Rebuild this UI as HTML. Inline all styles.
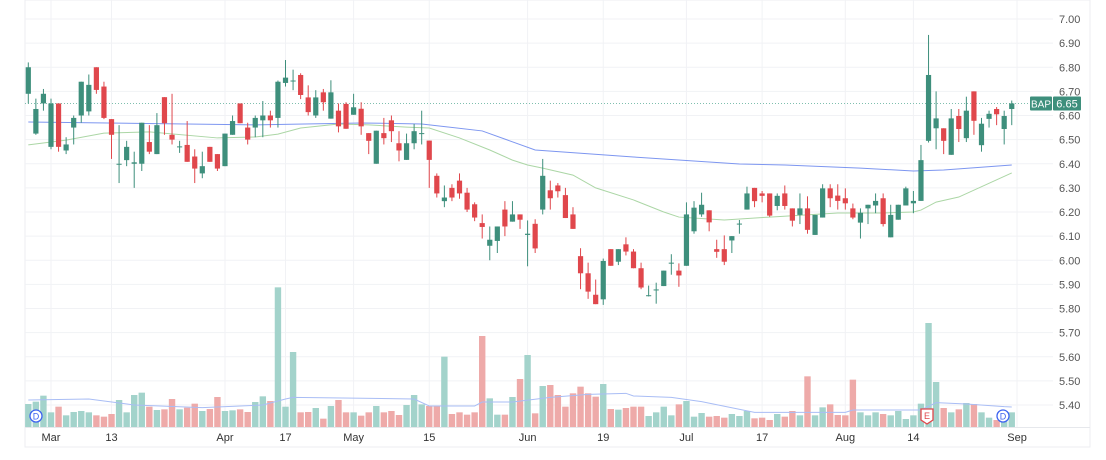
<!DOCTYPE html>
<html><head><meta charset="utf-8"><style>
html,body{margin:0;padding:0;background:#fff;}
svg{display:block;font-family:"Liberation Sans",sans-serif;}
</style></head><body>
<svg id="chart" width="1106" height="460" viewBox="0 0 1106 460">
<g id="grid"></g>
<g id="vol"></g>
<g id="ma"></g>
<g id="candles"></g>
<g id="axes"></g>
</svg>
<script>
const opens=[6.69,6.525,6.65,6.47,6.65,6.455,6.55,6.60,6.617,6.80,6.72,6.585,6.40,6.415,6.40,6.40,6.49,6.44,6.676,6.52,6.47,6.478,6.43,6.36,6.47,6.44,6.39,6.52,6.65,6.55,6.55,6.58,6.60,6.59,6.735,6.745,6.768,6.675,6.60,6.696,6.587,6.62,6.648,6.603,6.628,6.527,6.40,6.527,6.58,6.485,6.416,6.485,6.527,6.496,6.35,6.245,6.30,6.33,6.28,6.232,6.154,6.06,6.08,6.21,6.16,6.19,6.105,6.151,6.21,6.29,6.31,6.27,6.19,6.017,5.946,5.857,5.838,6.046,5.994,6.066,6.036,5.967,5.853,5.877,5.893,5.988,5.957,5.977,6.12,6.19,6.207,6.046,6.046,6.082,6.15,6.21,6.30,6.277,6.277,6.225,6.277,6.215,6.188,6.215,6.105,6.177,6.298,6.268,6.257,6.215,6.156,6.215,6.227,6.257,6.095,6.168,6.227,6.236,6.246,6.495,6.547,6.547,6.437,6.598,6.506,6.70,6.477,6.586,6.627,6.544,6.627];
const highs=[6.82,6.67,6.71,6.67,6.65,6.51,6.60,6.74,6.77,6.80,6.74,6.585,6.56,6.495,6.45,6.57,6.56,6.61,6.676,6.69,6.495,6.577,6.46,6.45,6.47,6.44,6.525,6.60,6.65,6.57,6.60,6.66,6.62,6.745,6.83,6.79,6.775,6.725,6.705,6.71,6.746,6.65,6.655,6.69,6.655,6.527,6.537,6.59,6.60,6.535,6.525,6.565,6.62,6.496,6.36,6.31,6.315,6.36,6.30,6.24,6.19,6.14,6.14,6.245,6.245,6.19,6.165,6.17,6.42,6.33,6.32,6.30,6.22,6.05,5.99,5.92,6.007,6.046,6.046,6.095,6.046,5.99,5.895,5.907,5.957,6.025,5.987,6.24,6.245,6.28,6.207,6.085,6.103,6.10,6.167,6.305,6.30,6.287,6.277,6.277,6.31,6.215,6.277,6.265,6.188,6.315,6.315,6.315,6.298,6.235,6.215,6.23,6.277,6.277,6.23,6.23,6.305,6.287,6.478,6.934,6.70,6.547,6.627,6.627,6.678,6.70,6.59,6.62,6.635,6.62,6.662];
const lows=[6.65,6.52,6.62,6.46,6.45,6.44,6.48,6.57,6.60,6.69,6.585,6.42,6.32,6.39,6.30,6.37,6.44,6.44,6.52,6.48,6.445,6.408,6.32,6.34,6.408,6.37,6.39,6.52,6.568,6.48,6.51,6.51,6.55,6.55,6.72,6.705,6.668,6.60,6.59,6.62,6.587,6.53,6.545,6.603,6.52,6.44,6.40,6.48,6.49,6.41,6.416,6.46,6.48,6.30,6.26,6.22,6.245,6.255,6.20,6.162,6.09,6.00,6.03,6.10,6.16,6.13,5.975,6.03,6.19,6.21,6.26,6.175,6.13,5.88,5.84,5.818,5.815,5.977,5.98,6.02,5.967,5.88,5.85,5.82,5.893,5.94,5.89,5.977,6.11,6.18,6.12,6.01,5.98,6.03,6.11,6.21,6.22,6.24,6.18,6.207,6.21,6.14,6.15,6.11,6.105,6.177,6.22,6.21,6.21,6.17,6.09,6.15,6.195,6.14,6.095,6.168,6.227,6.195,6.246,6.488,6.46,6.44,6.437,6.49,6.49,6.52,6.45,6.55,6.56,6.48,6.56];
const closes=[6.80,6.627,6.69,6.65,6.47,6.48,6.59,6.74,6.727,6.706,6.59,6.52,6.40,6.47,6.406,6.57,6.45,6.56,6.568,6.50,6.472,6.408,6.38,6.39,6.408,6.38,6.525,6.577,6.568,6.50,6.59,6.60,6.58,6.74,6.757,6.745,6.685,6.614,6.675,6.655,6.696,6.555,6.545,6.634,6.555,6.495,6.537,6.506,6.535,6.455,6.485,6.535,6.527,6.416,6.277,6.26,6.26,6.277,6.21,6.177,6.138,6.085,6.14,6.14,6.19,6.168,6.11,6.049,6.35,6.257,6.286,6.175,6.13,5.946,5.87,5.818,5.997,5.977,6.046,6.036,5.967,5.887,5.855,5.879,5.957,5.99,5.937,6.19,6.218,6.23,6.157,6.035,5.994,6.10,6.152,6.277,6.245,6.267,6.185,6.267,6.225,6.164,6.215,6.126,6.188,6.298,6.257,6.246,6.236,6.177,6.197,6.23,6.246,6.15,6.188,6.23,6.298,6.246,6.415,6.768,6.588,6.495,6.588,6.544,6.62,6.578,6.566,6.607,6.605,6.598,6.65];
const volumes=[69,76,94,44,61,35,45,48,44,35,31,39,81,44,96,103,61,51,53,84,53,58,70,48,54,90,48,50,53,45,75,92,78,419,61,225,44,45,57,25,63,81,44,44,34,44,63,44,48,36,66,96,68,63,63,211,39,44,37,44,273,86,37,37,90,144,216,41,123,126,96,61,101,121,101,91,129,54,52,57,61,61,33,44,61,35,68,78,31,42,31,33,28,39,33,48,26,28,21,39,31,48,35,152,35,59,68,36,35,142,44,35,44,39,35,48,24,35,70,312,135,57,44,53,72,69,44,28,21,21,44];
const smaFastIdx=[0,5,10,16,25,30,33,36,41,45,50,53,57,61,64,66,68,72,75,80,84,86,92,98,107,113,117,118,120,123,130];
const smaFastVal=[6.478,6.498,6.527,6.532,6.507,6.511,6.523,6.548,6.565,6.561,6.552,6.548,6.507,6.457,6.415,6.395,6.382,6.353,6.30,6.25,6.20,6.179,6.167,6.179,6.196,6.196,6.20,6.208,6.241,6.262,6.362];
const smaSlowIdx=[0,30,44,52,60,67,80,94,100,110,117,121,130];
const smaSlowVal=[6.573,6.561,6.569,6.565,6.536,6.457,6.428,6.399,6.395,6.382,6.37,6.374,6.395];
const volMaIdx=[0,8,14,23,31,34,35,51,53,59,60,64,69,74,79,80,85,89,96,99,108,109,118,120,124,129,130];
const volMaVal=[81,84,66,58,66,84,89,84,63,63,75,75,89,98,101,93,89,76,44,44,44,51,51,73,69,61,60];
const priceTicks=[7.00,6.90,6.80,6.70,6.60,6.50,6.40,6.30,6.20,6.10,6.00,5.90,5.80,5.70,5.60,5.50,5.40];
const timeLabels=["Mar","13","Apr","17","May","15","Jun","19","Jul","17","Aug","14","Sep"];
const timeLabelIdx=[3,11,26,34,43,53,66,76,87,97,108,117,130.7];
const lastPrice=6.65;

const NS="http://www.w3.org/2000/svg";
function mk(tag,attrs,parent){const e=document.createElementNS(NS,tag);for(const k in attrs)e.setAttribute(k,attrs[k]);parent.appendChild(e);return e;}
const xOf=i=>28.3+i*7.565;
const yOf=p=>19+(7.00-p)*241.25;
const vOf=v=>427-v/3;
const G=document.getElementById('grid'),V=document.getElementById('vol'),M=document.getElementById('ma'),C=document.getElementById('candles'),A=document.getElementById('axes');

// frame
let f=mk('rect',{x:25,y:0,width:1065,height:447,fill:'none',stroke:'#eceef2','stroke-width':1},G);


priceTicks.forEach(p=>{const l=mk('line',{x1:25,x2:1053,y1:yOf(p),y2:yOf(p),stroke:'#f1f2f5','stroke-width':1},G);

});
timeLabelIdx.forEach(i=>{const l=mk('line',{x1:xOf(i),x2:xOf(i),y1:0,y2:427,stroke:'#f1f2f5','stroke-width':1},G);

});
let b=mk('line',{x1:25,x2:1090,y1:427.5,y2:427.5,stroke:'#e6e8ec'},G);



// volume
volumes.forEach((v,i)=>{const up=closes[i]>=opens[i];const r=mk('rect',{x:xOf(i)-3.2,y:vOf(v),width:6.4,height:v/3,fill:up?'#a3d3cb':'#eeaaa9'},V);

});
let vp=volMaIdx.map((k,j)=>xOf(k)+','+vOf(volMaVal[j])).join(' ');
let vl=mk('polyline',{points:vp,fill:'none',stroke:'#a9bdf5','stroke-width':1},V);



// MAs
let sp=smaSlowIdx.map((k,j)=>xOf(k)+','+yOf(smaSlowVal[j])).join(' ');
let sl=mk('polyline',{points:sp,fill:'none',stroke:'#7d96f0','stroke-width':1},M);


let fp=smaFastIdx.map((k,j)=>xOf(k)+','+yOf(smaFastVal[j])).join(' ');
let fl=mk('polyline',{points:fp,fill:'none',stroke:'#abd6a5','stroke-width':1},M);



// last price line
let lp=mk('line',{x1:25,x2:1030,y1:yOf(lastPrice),y2:yOf(lastPrice),stroke:'#7fbfae','stroke-width':1,'stroke-dasharray':'1 2'},M);



// candles
opens.forEach((o,i)=>{const c=closes[i],up=c>=o,col=up?'#3e8f7c':'#e0474c',x=xOf(i);
const w=mk('line',{x1:x,x2:x,y1:yOf(highs[i]),y2:yOf(lows[i]),stroke:col,'stroke-width':1},C);


const t=yOf(Math.max(o,c)),h=Math.max(1,yOf(Math.min(o,c))-t);
const r=mk('rect',{x:x-2.6,y:t,width:5.2,height:h,fill:col},C);

});

// price axis labels
priceTicks.forEach(p=>{const t=mk('text',{x:1059,y:yOf(p)+4,'font-size':11,fill:'#555'},A);t.textContent=p.toFixed(2);

});
timeLabels.forEach((s,j)=>{const t=mk('text',{x:xOf(timeLabelIdx[j]),y:441,'font-size':11,fill:'#333','text-anchor':'middle'},A);t.textContent=s;

});

// last price badge
let yb=yOf(lastPrice);
let bg=mk('rect',{x:1030,y:yb-7,width:22,height:14,fill:'#3e8f7c',rx:1},A);


let bt=mk('text',{x:1041,y:yb+4,'font-size':10,fill:'#fff','text-anchor':'middle'},A);bt.textContent='BAP';


let pg=mk('rect',{x:1053,y:yb-7,width:28,height:14,fill:'#3e8f7c',rx:1},A);


let pt=mk('text',{x:1067,y:yb+4,'font-size':11,fill:'#fff','text-anchor':'middle'},A);pt.textContent=lastPrice.toFixed(2);



// event markers
[[36,'D'],[1003,'D']].forEach(([x,s])=>{const c=mk('circle',{cx:x,cy:416,r:6,fill:'#fff',stroke:'#3d63f0','stroke-width':1.3},A);


const t=mk('text',{x:x,y:419.5,'font-size':9,fill:'#3d63f0','text-anchor':'middle'},A);t.textContent=s;

});
let e=mk('path',{d:'M921,409 h12 v11 l-6,4 l-6,-4 z',fill:'#fff',stroke:'#e0474c','stroke-width':1.3},A);


let et=mk('text',{x:927,y:419,'font-size':9,fill:'#e0474c','text-anchor':'middle'},A);et.textContent='E';


</script>
</body></html>
